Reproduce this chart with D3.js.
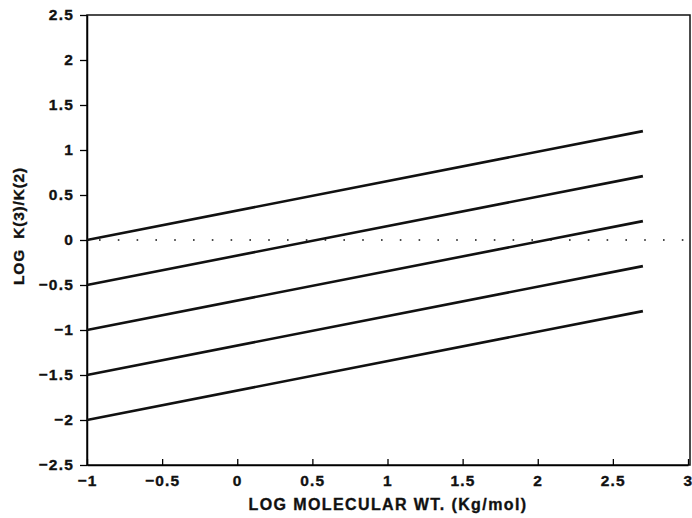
<!DOCTYPE html>
<html><head><meta charset="utf-8">
<script src="https://cdn.jsdelivr.net/npm/d3@7"></script>
<style>body{margin:0;background:#fff}svg{display:block}text{font-family:"Liberation Sans",Arial,sans-serif;font-weight:bold;fill:#111;stroke:#111;stroke-width:0.35px}</style>
</head><body>
<svg id="c" width="692" height="518"></svg>
<script>
const xStart = [-1, -1, -1, -1, -1];
const xEnd = [2.7, 2.7, 2.7, 2.7, 2.7];
const yStart = [0, -0.5, -1, -1.5, -2];
const yEnd = [1.21, 0.71, 0.21, -0.29, -0.79];
const xTicks = [-1, -0.5, 0, 0.5, 1, 1.5, 2, 2.5, 3];
const yTicks = [-2.5, -2, -1.5, -1, -0.5, 0, 0.5, 1, 1.5, 2, 2.5];
const refLine = [[-1, 0], [3, 0]];

const svg = d3.select("#c");
const L = 87, R = 688, T = 15, B = 465;
const x = d3.scaleLinear().domain([-1, 3]).range([L, R]);
const y = d3.scaleLinear().domain([-2.5, 2.5]).range([B, T]);
const fmt = d => String(d).replace("-", "\u2212");

// frame
svg.append("rect").attr("x", L).attr("y", T).attr("width", R - L + 2).attr("height", B - T)
  .attr("fill", "none").attr("stroke", "#111").attr("stroke-width", 1.5);

const xa = svg.append("g").attr("transform", `translate(0,${B})`)
  .call(d3.axisBottom(x).tickValues(xTicks).tickFormat(fmt).tickSizeInner(-6).tickSizeOuter(0).tickPadding(10));
xa.select(".domain").attr("stroke-width", 1.5);
xa.selectAll("text").attr("font-size", 15.5).attr("letter-spacing", 1.2).attr("dy", "0.72em");
xa.selectAll("line").attr("stroke-width", 1.3);

const ya = svg.append("g").attr("transform", `translate(${L},0)`)
  .call(d3.axisLeft(y).tickValues(yTicks).tickFormat(fmt).tickSize(7).tickSizeOuter(0).tickPadding(6));
ya.select(".domain").attr("stroke-width", 1.5);
ya.selectAll("text").attr("font-size", 15.5).attr("letter-spacing", 1.2);
ya.selectAll("line").attr("stroke-width", 1.3);

// dotted zero line
svg.append("path").attr("d", d3.line().x(d => x(d[0])).y(d => y(d[1]))(refLine))
  .attr("stroke", "#111").attr("stroke-width", 1.6).attr("fill", "none")
  .attr("stroke-dasharray", "1.6 17.2").attr("stroke-dashoffset", -12);

// lines
const line = d3.line().x(d => x(d[0])).y(d => y(d[1]));
yStart.forEach((v, i) => {
  svg.append("path").attr("d", line([[xStart[i], v], [xEnd[i], yEnd[i]]]))
    .attr("stroke", "#111").attr("stroke-width", 2.6).attr("fill", "none");
});

svg.append("text").attr("x", 388).attr("y", 510).attr("text-anchor", "middle")
  .attr("font-size", 16).attr("letter-spacing", 1.4).text("LOG MOLECULAR WT. (Kg/mol)");
svg.append("text").attr("transform", "translate(24,226) rotate(-90)").attr("text-anchor", "middle")
  .attr("font-size", 15.5).attr("letter-spacing", 0.8).attr("xml:space", "preserve").text("LOG  K(3)/K(2)");
</script>
</body></html>
